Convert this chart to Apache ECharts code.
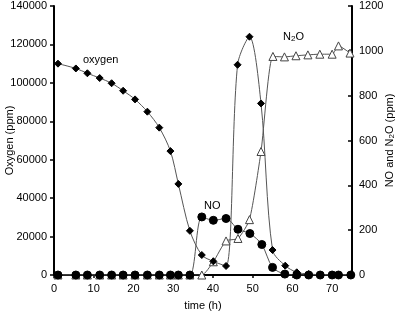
<!DOCTYPE html>
<html><head><meta charset="utf-8">
<script src="https://cdn.jsdelivr.net/npm/echarts@6/dist/echarts.min.js"></script>
<style>html,body{margin:0;padding:0;background:#fff}#c{width:395px;height:312px}</style>
</head><body><div id="c"></div>
<script>
// time (h) and values
const oxygenTime = [1.0, 5.5, 8.4, 11.5, 14.5, 17.4, 20.4, 23.5, 26.5, 29.3, 31.3, 34.2, 37.2, 40.1, 43.3, 46.2, 49.2, 52.1, 55.0, 58.2, 61.1, 64.1, 67.0, 70.0, 71.6, 74.7];
const oxygenVal  = [110000, 107500, 105000, 102500, 99800, 95900, 91400, 85000, 76700, 64500, 47400, 23000, 10400, 7100, 4700, 109400, 124000, 89300, 13000, 4850, 1400, 500, 200, 100, 100, 100];

const noTime = [1.0, 5.5, 8.4, 11.5, 14.5, 17.4, 20.4, 23.5, 26.5, 29.3, 31.3, 34.2, 37.2, 40.1, 43.3, 46.3, 49.3, 52.3, 55.0, 58.1, 61.1, 64.1, 67.0, 70.0, 71.6, 74.7];
const noVal  = [0, 0, 0, 0, 0, 0, 0, 0, 0, 0, 0, 0, 259, 244, 252, 204, 185, 136, 34, 4, 0, 0, 0, 0, 0, 0];

const n2oTime = [1.0, 5.5, 8.4, 11.5, 14.5, 17.4, 20.4, 23.5, 26.5, 29.3, 31.3, 34.2, 37.2, 40.1, 43.3, 46.3, 49.2, 52.1, 55.1, 58.0, 60.9, 63.9, 66.9, 70.0, 71.6, 74.5];
const n2oVal  = [0, 0, 0, 0, 0, 0, 0, 0, 0, 0, 0, 0, 0, 59, 152, 163, 247, 551, 975, 973, 978, 982, 985, 985, 1022, 990];

const xTicks = [0, 10, 20, 30, 40, 50, 60, 70];
const leftTicks = [0, 20000, 40000, 60000, 80000, 100000, 120000, 140000];
const rightTicks = [0, 200, 400, 600, 800, 1000, 1200];

const zip = (a, b) => a.map((t, i) => [t, b[i]]);
const font = 'Liberation Sans, Arial, sans-serif';
const chart = echarts.init(document.getElementById('c'));
const axisLine = {show: true, lineStyle: {color: '#000', width: 2}};
chart.setOption({
  animation: false,
  grid: {left: 54, right: 43, top: 6, bottom: 37, containLabel: false, outerBoundsMode: 'none'},
  xAxis: {
    type: 'value', min: 0, max: 75, interval: 10,
    name: 'time (h)', nameLocation: 'middle', nameGap: 25, nameMoveOverlap: false,
    nameTextStyle: {fontFamily: font, fontSize: 11, color: '#000'},
    axisLine: axisLine,
    axisTick: {show: true, inside: false, length: 3, lineStyle: {color: '#000', width: 1.5}},
    axisLabel: {fontFamily: font, fontSize: 11, color: '#000', margin: 8, showMaxLabel: false,
      formatter: v => xTicks.includes(v) ? String(v) : ''},
    splitLine: {show: false}
  },
  yAxis: [{
    type: 'value', min: 0, max: 140000, interval: 20000,
    name: 'Oxygen (ppm)', nameLocation: 'middle', nameGap: 39, nameRotate: 90, nameMoveOverlap: false,
    nameTextStyle: {fontFamily: font, fontSize: 11, color: '#000'},
    axisLine: axisLine,
    axisTick: {show: true, inside: false, length: 4, lineStyle: {color: '#000', width: 1.5}},
    axisLabel: {fontFamily: font, fontSize: 11, color: '#000', margin: 7,
      formatter: v => leftTicks.includes(v) ? String(v) : ''},
    splitLine: {show: false}
  }, {
    type: 'value', min: 0, max: 1200, interval: 200, position: 'right',
    name: 'NO and N{sub|2}O (ppm)', nameLocation: 'middle', nameGap: 32, nameRotate: 90, nameMoveOverlap: false,
    nameTextStyle: {fontFamily: font, fontSize: 11, color: '#000',
      rich: {sub: {fontFamily: font, fontSize: 8, color: '#000', verticalAlign: 'bottom', padding: [4, 0, 0, 0]}}},
    axisLine: axisLine,
    axisTick: {show: true, inside: true, length: 4, lineStyle: {color: '#000', width: 1.5}},
    axisLabel: {fontFamily: font, fontSize: 11, color: '#000', margin: 7,
      formatter: v => rightTicks.includes(v) ? String(v) : ''},
    splitLine: {show: false}
  }],
  series: [{
    name: 'N2O', type: 'line', yAxisIndex: 1, data: zip(n2oTime, n2oVal), z: 2,
    smooth: 0.2, symbol: 'triangle', symbolSize: 8,
    lineStyle: {color: '#555', width: 1},
    itemStyle: {color: '#fff', borderColor: '#444', borderWidth: 1}
  }, {
    name: 'Oxygen', type: 'line', yAxisIndex: 0, data: zip(oxygenTime, oxygenVal), z: 3,
    smooth: 0.3, symbol: 'diamond', symbolSize: 7,
    lineStyle: {color: '#555', width: 1},
    itemStyle: {color: '#000', borderColor: '#000'}
  }, {
    name: 'NO', type: 'line', yAxisIndex: 1, data: zip(noTime, noVal), z: 4,
    smooth: 0.3, symbol: 'circle', symbolSize: 8,
    lineStyle: {color: '#555', width: 1},
    itemStyle: {color: '#000', borderColor: '#000'}
  }],
  graphic: [
    {type: 'text', left: 83, top: 54, style: {text: 'oxygen', font: '11px ' + font, fill: '#000'}},
    {type: 'text', left: 204, top: 200, style: {text: 'NO', font: '11px ' + font, fill: '#000'}},
    {type: 'text', left: 283, top: 31, style: {
      text: 'N{s|2}O', font: '11px ' + font, fill: '#000',
      rich: {s: {fontFamily: font, fontSize: 8, fill: '#000', padding: [5, 0, 0, 0]}}}}
  ]
});
</script></body></html>
